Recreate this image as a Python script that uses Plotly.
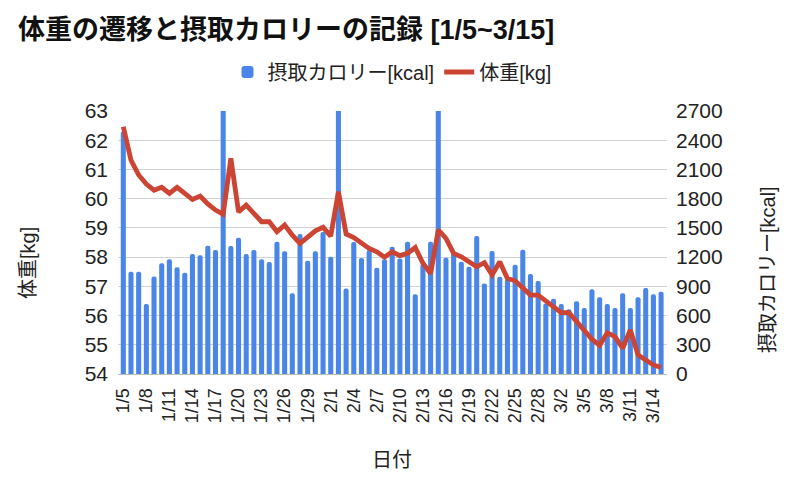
import plotly.graph_objects as go

dates = [
    "1/5", "1/6", "1/7", "1/8", "1/9", "1/10", "1/11", "1/12", "1/13", "1/14",
    "1/15", "1/16", "1/17", "1/18", "1/19", "1/20", "1/21", "1/22", "1/23", "1/24",
    "1/25", "1/26", "1/27", "1/28", "1/29", "1/30", "1/31", "2/1", "2/2", "2/3",
    "2/4", "2/5", "2/6", "2/7", "2/8", "2/9", "2/10", "2/11", "2/12", "2/13",
    "2/14", "2/15", "2/16", "2/17", "2/18", "2/19", "2/20", "2/21", "2/22", "2/23",
    "2/24", "2/25", "2/26", "2/27", "2/28", "2/29", "3/1", "3/2", "3/3", "3/4",
    "3/5", "3/6", "3/7", "3/8", "3/9", "3/10", "3/11", "3/12", "3/13", "3/14",
    "3/15",
]

kcal = [
    2490, 1050, 1050, 718, 1000, 1136, 1177, 1095, 1040, 1231,
    1218, 1317, 1273, 3000, 1314, 1400, 1231, 1273, 1177, 1149,
    1358, 1259, 828, 1437, 1163, 1259, 1457, 1204, 3000, 879,
    1355, 1190, 1273, 1091, 1177, 1307, 1187, 1358, 818, 1129,
    1358, 3000, 1194, 1245, 1153, 1101, 1416, 930, 1262, 999,
    971, 1122, 1276, 1026, 954, 725, 773, 718, 664, 746,
    677, 869, 787, 718, 677, 828, 677, 787, 883, 818,
    845,
]

weight = [
    62.46, 61.32, 60.81, 60.50, 60.29, 60.39, 60.18, 60.39, 60.18, 59.97,
    60.09, 59.82, 59.61, 59.47, 61.38, 59.55, 59.78, 59.47, 59.21, 59.21,
    58.87, 59.10, 58.75, 58.47, 58.67, 58.90, 59.02, 58.72, 60.24, 58.79,
    58.67, 58.47, 58.30, 58.18, 58.00, 58.18, 58.05, 58.13, 58.33, 57.79,
    57.44, 58.93, 58.64, 58.13, 58.01, 57.84, 57.67, 57.81, 57.39, 57.84,
    57.27, 57.19, 56.93, 56.70, 56.70, 56.51, 56.30, 56.10, 56.10, 55.79,
    55.48, 55.19, 54.98, 55.41, 55.28, 54.88, 55.51, 54.65, 54.48, 54.31,
    54.22,
]

x_ticks = dates[::3]
kg_ticks = [54, 55, 56, 57, 58, 59, 60, 61, 62, 63]
kcal_ticks = [0, 300, 600, 900, 1200, 1500, 1800, 2100, 2400, 2700]

title_text = "体重の遷移と摂取カロリーの記録 [1/5~3/15]"
bar_name = "摂取カロリー[kcal]"
line_name = "体重[kg]"

FONT = "Liberation Sans, Noto Sans CJK JP, sans-serif"
BLUE = "#4a86e8"
RED = "#cc4433"

# The page body adds an 8px offset; layout below compensates for it.
OFF = 8
PL, PR, PT, PB = 118 - OFF, 667 - OFF, 111 - OFF, 374 - OFF
W, H = 800, 485
PW, PH = PR - PL, PB - PT

fig = go.Figure()
fig.add_trace(go.Bar(
    x=dates, y=kcal, name=bar_name, yaxis="y",
    marker=dict(color=BLUE, line=dict(width=0), cornerradius=2),
    width=0.66,
))
fig.add_trace(go.Scatter(
    x=dates, y=weight, name=line_name, yaxis="y2", mode="lines",
    line=dict(color=RED, width=4.8),
))

fig.update_layout(
    width=W, height=H,
    margin=dict(l=PL, r=W - PR, t=PT, b=H - PB, autoexpand=False),
    paper_bgcolor="white", plot_bgcolor="white",
    font=dict(family=FONT, color="#222222", size=19),
    title=dict(text="<b>" + title_text + "</b>", x=(18 - OFF) / W, xref="container", xanchor="left",
               y=1 - (30 - OFF) / H, yref="container", yanchor="middle",
               font=dict(size=27, color="#111111")),
    showlegend=True,
    legend=dict(orientation="h", xref="container", yref="container",
                x=(392 - OFF) / W, xanchor="center",
                y=1 - (72 - OFF) / H, yanchor="middle", font=dict(size=20),
                itemwidth=30, traceorder="normal", bgcolor="rgba(0,0,0,0)"),
    xaxis=dict(
        type="category", range=[-0.69, 70.77], automargin=False,
        tickmode="array", tickvals=x_ticks, ticktext=x_ticks,
        tickangle=-90, tickfont=dict(size=18), ticks="", ticklabelstandoff=6,
        showgrid=False, showline=True, linecolor="#bdbdbd", linewidth=1,
    ),
    yaxis=dict(
        side="right", range=[0, 2700], tickmode="array", tickvals=kcal_ticks, automargin=False,
        showgrid=True, gridcolor="#d3d3d3", gridwidth=1, zeroline=False,
        ticks="", ticklabelstandoff=8, tickfont=dict(size=21),
    ),
    yaxis2=dict(
        side="left", overlaying="y", range=[54, 63], tickmode="array", tickvals=kg_ticks,
        automargin=False,
        showgrid=False, zeroline=False, ticks="", ticklabelstandoff=9, tickfont=dict(size=21),
    ),
    annotations=[
        dict(text=line_name, xref="paper", yref="paper", x=(28 - 118) / PW, y=(374 - 263) / PH,
             textangle=-90, showarrow=False, font=dict(size=20), xanchor="center", yanchor="middle"),
        dict(text=bar_name, xref="paper", yref="paper", x=(768 - 118) / PW, y=(374 - 270) / PH,
             textangle=-90, showarrow=False, font=dict(size=20), xanchor="center", yanchor="middle"),
        dict(text="日付", xref="paper", yref="paper", x=(392 - 118) / PW, y=(374 - 460) / PH,
             showarrow=False, font=dict(size=20), xanchor="center", yanchor="middle"),
    ],
)

fig.write_html("out.html")
